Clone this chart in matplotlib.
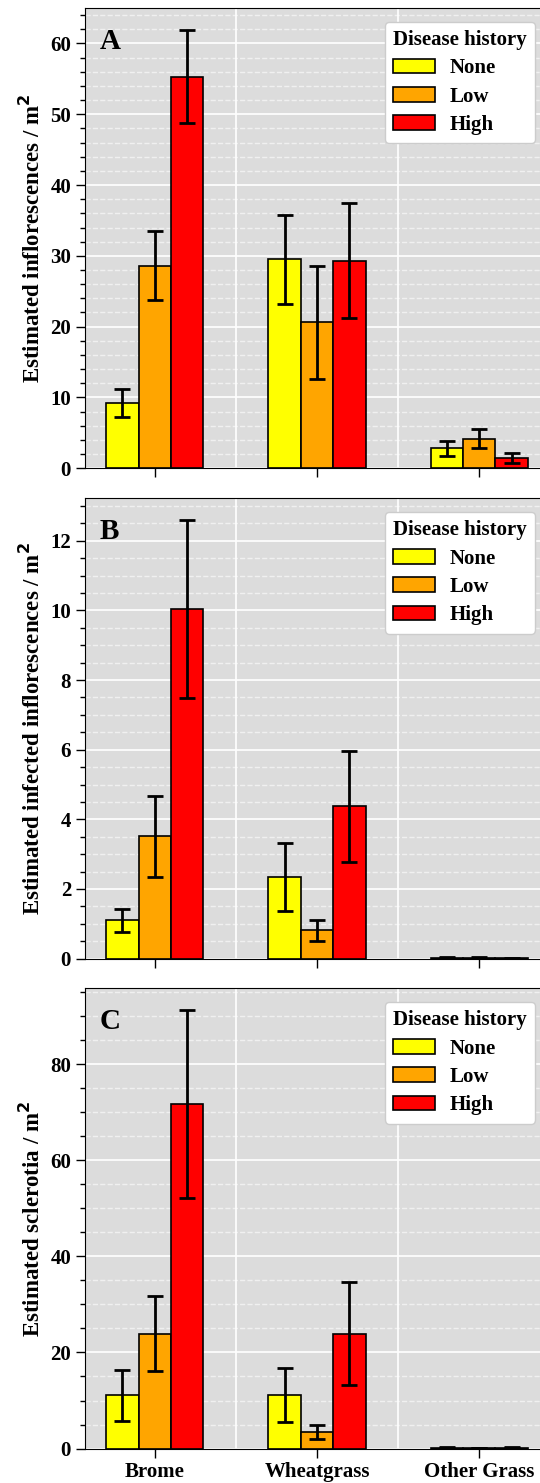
import numpy as np
import matplotlib.pyplot as plt
from matplotlib.ticker import MultipleLocator

plt.rcParams['font.family'] = ['Liberation Serif', 'DejaVu Serif']
plt.rcParams['font.weight'] = 'bold'
plt.rcParams['mathtext.default'] = 'bf'

grasses = ['Brome', 'Wheatgrass', 'Other Grass']
history = ['None', 'Low', 'High']
colors = ['#ffff00', '#ffa500', '#ff0000']

# rows = disease history (None, Low, High), cols = grass
infl_mean = [[9.2, 29.5, 2.8], [28.6, 20.6, 4.2], [55.3, 29.3, 1.5]]
infl_err = [[2.0, 6.3, 1.1], [4.9, 8.0, 1.4], [6.6, 8.1, 0.7]]

infected_mean = [[1.1, 2.34, 0.03], [3.51, 0.81, 0.02], [10.04, 4.37, 0.01]]
infected_err = [[0.33, 0.97, 0.02], [1.17, 0.31, 0.02], [2.55, 1.59, 0.01]]

scler_mean = [[11.1, 11.2, 0.2], [23.9, 3.4, 0.1], [71.7, 23.9, 0.15]]
scler_err = [[5.3, 5.6, 0.1], [7.8, 1.5, 0.05], [19.5, 10.7, 0.1]]

panels = [
    ('A', 'Estimated inflorescences / m$^2$', infl_mean, infl_err, 10, 2),
    ('B', 'Estimated infected inflorescences / m$^2$', infected_mean, infected_err, 2, 0.5),
    ('C', 'Estimated sclerotia / m$^2$', scler_mean, scler_err, 20, 5),
]

fig = plt.figure(figsize=(5.4, 14.83), dpi=100)
tops = [8, 498.3, 988.3]
H = 1483.0
x = np.arange(len(grasses))
w = 0.2

for i, (letter, ylab, mean, err, maj, mnr) in enumerate(panels):
    top = tops[i]
    ax = fig.add_axes([85 / 540, 1 - (top + 460.3) / H, 464 / 540, 460.3 / H])
    ax.set_facecolor('#dcdcdc')
    ax.set_axisbelow(True)
    for j in range(3):
        ax.bar(x + (j - 1) * w, mean[j], w, yerr=err[j], color=colors[j],
               edgecolor='black', linewidth=1.2, label=history[j],
               error_kw=dict(ecolor='black', elinewidth=2, capsize=6, capthick=2))
    ax.yaxis.set_major_locator(MultipleLocator(maj))
    ax.yaxis.set_minor_locator(MultipleLocator(mnr))
    ax.set_ylim(bottom=0)
    ax.grid(which='major', axis='y', color='white', linewidth=1.2)
    ax.grid(which='minor', axis='y', color='white', alpha=0.6, linestyle='--', linewidth=1)
    for xv in [0.5, 1.5]:
        ax.axvline(xv, color='white', linewidth=1.2, zorder=0.5)
    ax.set_xticks(x)
    if i == 2:
        ax.set_xticklabels(grasses, fontsize=15, fontweight='bold')
    else:
        ax.set_xticklabels([])
    ax.tick_params(axis='both', which='major', length=6.5, width=1, labelsize=15)
    ax.tick_params(axis='y', which='minor', length=3.5, width=1)
    ax.set_ylabel(ylab, fontsize=16.5, fontweight='bold')
    ax.text(0.032, 0.957, letter, transform=ax.transAxes, fontsize=21,
            fontweight='bold', va='top', ha='left')
    leg = ax.legend(title='Disease history', loc='upper right', fontsize=15,
                    title_fontsize=15, framealpha=1, borderaxespad=0.65,
                    labelspacing=0.4, handletextpad=0.7, alignment='left')
    leg.get_title().set_fontweight('bold')

fig.savefig('out.png', dpi=100)
